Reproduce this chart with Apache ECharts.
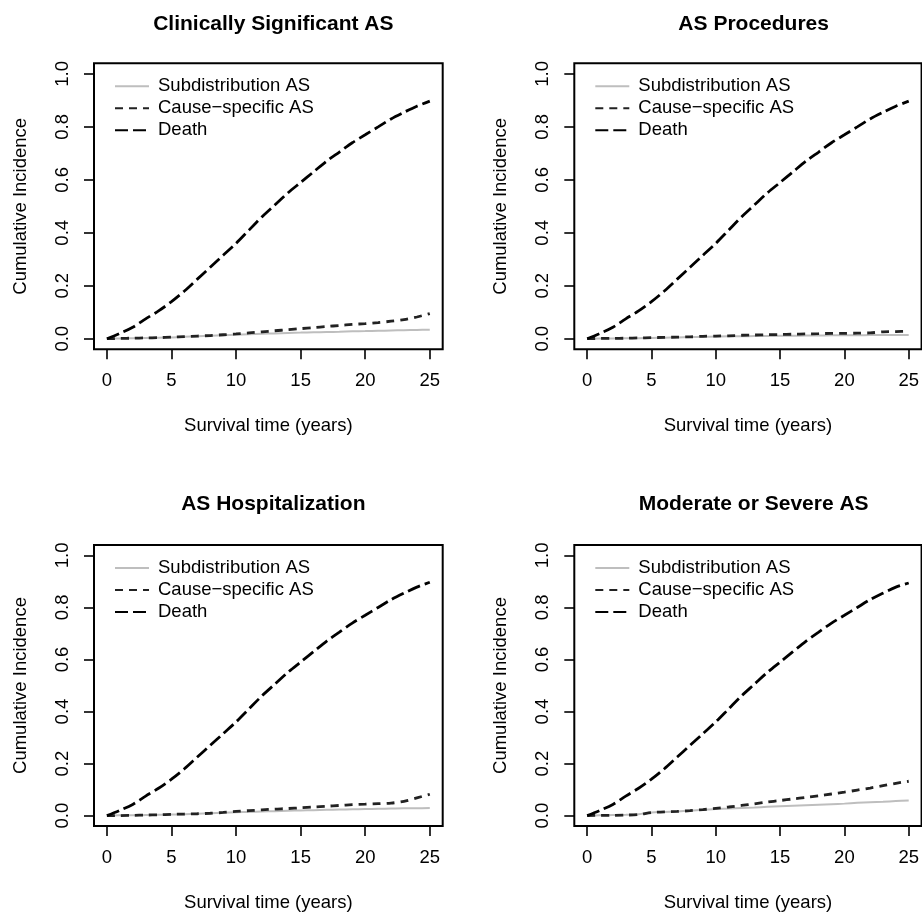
<!DOCTYPE html>
<html>
<head>
<meta charset="utf-8">
<script src="https://cdn.jsdelivr.net/npm/echarts@6/dist/echarts.min.js"></script>
<style>
html,body{margin:0;padding:0;background:#fff;}
#chart{width:922px;height:913px;}
</style>
</head>
<body>
<div id="chart"></div>
<script>
// ---- data ----
var years = [0,1,2,3,4,5,6,7,8,9,10,11,12,13,14,15,16,17,18,19,20,21,22,23,24,25];
var xTicks = [0,5,10,15,20,25];
var yTicks = [0,0.2,0.4,0.6,0.8,1.0];
var titles = ['Clinically Significant AS','AS Procedures','AS Hospitalization','Moderate or Severe AS'];
var seriesNames = ['Subdistribution AS','Cause\u2212specific AS','Death'];

// Clinically Significant AS
var subdist1 = [0,0.001,0.002,0.003,0.004,0.005,0.007,0.009,0.011,0.013,0.015,0.017,0.019,0.020,0.022,0.023,0.024,0.025,0.026,0.028,0.029,0.030,0.031,0.032,0.033,0.034];
var cause1   = [0,0.001,0.002,0.003,0.004,0.006,0.008,0.010,0.012,0.015,0.018,0.022,0.026,0.030,0.034,0.038,0.042,0.046,0.050,0.054,0.057,0.061,0.066,0.072,0.082,0.095];
var death1   = [0,0.020,0.043,0.075,0.105,0.140,0.180,0.225,0.270,0.315,0.360,0.410,0.460,0.505,0.550,0.590,0.630,0.670,0.705,0.740,0.770,0.800,0.830,0.855,0.878,0.897];
// AS Procedures
var subdist2 = [0,0.001,0.001,0.002,0.002,0.003,0.004,0.005,0.006,0.007,0.008,0.009,0.009,0.010,0.010,0.011,0.011,0.012,0.012,0.013,0.013,0.013,0.014,0.014,0.014,0.014];
var cause2   = [0,0.001,0.001,0.002,0.003,0.004,0.005,0.006,0.007,0.009,0.010,0.011,0.013,0.014,0.015,0.016,0.017,0.018,0.019,0.020,0.020,0.021,0.022,0.026,0.027,0.028];
var death2   = [0,0.020,0.043,0.075,0.105,0.140,0.180,0.225,0.270,0.315,0.360,0.410,0.460,0.505,0.550,0.590,0.630,0.670,0.705,0.740,0.770,0.800,0.830,0.855,0.878,0.897];
// AS Hospitalization
var subdist3 = [0,0.001,0.001,0.002,0.003,0.004,0.005,0.007,0.009,0.011,0.013,0.014,0.016,0.017,0.019,0.020,0.021,0.022,0.023,0.024,0.025,0.026,0.027,0.028,0.028,0.029];
var cause3   = [0,0.000,0.001,0.002,0.003,0.005,0.006,0.007,0.009,0.012,0.016,0.019,0.022,0.025,0.027,0.030,0.033,0.036,0.039,0.042,0.044,0.046,0.048,0.055,0.068,0.082];
var death3   = [0,0.020,0.043,0.075,0.105,0.140,0.180,0.225,0.270,0.315,0.360,0.410,0.460,0.505,0.550,0.590,0.630,0.670,0.705,0.740,0.770,0.800,0.830,0.855,0.878,0.897];
// Moderate or Severe AS
var subdist4 = [0,0.001,0.002,0.003,0.005,0.012,0.014,0.016,0.019,0.022,0.025,0.027,0.029,0.031,0.034,0.036,0.038,0.040,0.042,0.044,0.046,0.049,0.051,0.053,0.056,0.058];
var cause4   = [0,0.001,0.001,0.002,0.004,0.012,0.014,0.016,0.019,0.023,0.028,0.033,0.039,0.045,0.052,0.058,0.064,0.070,0.076,0.083,0.090,0.098,0.106,0.115,0.124,0.132];
var death4   = [0,0.020,0.043,0.075,0.105,0.140,0.180,0.225,0.270,0.315,0.360,0.410,0.460,0.505,0.550,0.590,0.630,0.670,0.705,0.740,0.770,0.800,0.830,0.855,0.878,0.894];

var panels = [
  {sub: subdist1, cause: cause1, death: death1},
  {sub: subdist2, cause: cause2, death: death2},
  {sub: subdist3, cause: cause3, death: death3},
  {sub: subdist4, cause: cause4, death: death4}
];

// ---- layout ----
var FONT = 'Liberation Sans, Arial, Helvetica, sans-serif';
var FS = 18.5;
var gridPos = [
  {left: 94,  top: 63.3, width: 348.7, height: 286},
  {left: 574.3, top: 63.3, width: 348.7, height: 286},
  {left: 94,  top: 545, width: 348.7, height: 284.3},
  {left: 574.3, top: 545, width: 348.7, height: 284.3}
];
var titleTop = [9, 9, 489, 489];

function pairs(arr){ return years.map(function(y,i){ return [y, arr[i]]; }); }

var grids = [], xAxes = [], yAxes = [], series = [], titleArr = [], legends = [];
gridPos.forEach(function(g, i){
  grids.push({left: g.left, top: g.top, width: g.width, height: g.height, show: true,
    borderColor: '#000', borderWidth: 2, backgroundColor: 'transparent', containLabel: false});
  xAxes.push({
    gridIndex: i, type: 'value', min: -1, max: 26,
    name: 'Survival time (years)', nameLocation: 'middle', nameGap: 67,
    nameTextStyle: {fontFamily: FONT, fontSize: FS, color: '#000'},
    axisLine: {show: false, onZero: false},
    axisTick: {show: true, inside: false, length: 10, lineStyle: {color: '#000', width: 1.6}, customValues: xTicks},
    axisLabel: {show: true, margin: 22, fontFamily: FONT, fontSize: FS, color: '#000', customValues: xTicks,
      formatter: function(v){ return String(v); }},
    splitLine: {show: false}
  });
  yAxes.push({
    gridIndex: i, type: 'value', min: -0.04, max: 1.04,
    name: 'Cumulative Incidence', nameLocation: 'middle', nameGap: 64, nameRotate: 90,
    nameTextStyle: {fontFamily: FONT, fontSize: FS, color: '#000'},
    axisLine: {show: false, onZero: false},
    axisTick: {show: true, inside: false, length: 10, lineStyle: {color: '#000', width: 1.6}, customValues: yTicks},
    axisLabel: {show: true, rotate: 90, margin: 22, fontFamily: FONT, fontSize: FS, color: '#000', customValues: yTicks,
      formatter: function(v){ return v.toFixed(1); }},
    splitLine: {show: false}
  });
  titleArr.push({
    text: titles[i], left: g.left + g.width/2, top: titleTop[i], textAlign: 'center',
    textStyle: {fontFamily: FONT, fontSize: 21, fontWeight: 'bold', color: '#000'}
  });
  legends.push({
    data: seriesNames, orient: 'vertical', left: g.left + 15, top: g.top + 7,
    itemWidth: 34, itemHeight: 12, itemGap: 0, selectedMode: false,
    itemStyle: {opacity: 0},
    textStyle: {fontFamily: FONT, fontSize: FS, color: '#000', lineHeight: 22, padding: [0,0,0,4]}
  });
  var p = panels[i];
  series.push({
    name: seriesNames[0], type: 'line', xAxisIndex: i, yAxisIndex: i, data: pairs(p.sub),
    showSymbol: false, symbol: 'none', smooth: 0.3, lineStyle: {color: '#bebebe', width: 2, type: 'solid'},
    itemStyle: {color: '#bebebe'}, z: 2, silent: true
  });
  series.push({
    name: seriesNames[1], type: 'line', xAxisIndex: i, yAxisIndex: i, data: pairs(p.cause),
    showSymbol: false, symbol: 'none', smooth: 0.3, lineStyle: {color: '#222', width: 2.8, type: [8, 6]},
    itemStyle: {color: '#222'}, z: 3, silent: true
  });
  series.push({
    name: seriesNames[2], type: 'line', xAxisIndex: i, yAxisIndex: i, data: pairs(p.death),
    showSymbol: false, symbol: 'none', smooth: 0.3, lineStyle: {color: '#000', width: 2.8, type: [13, 5]},
    itemStyle: {color: '#000'}, z: 4, silent: true
  });
});

var chart = echarts.init(document.getElementById('chart'), null, {renderer: 'canvas'});
chart.setOption({
  backgroundColor: '#fff',
  animation: false,
  title: titleArr,
  legend: legends,
  grid: grids,
  xAxis: xAxes,
  yAxis: yAxes,
  series: series
});
</script>
</body>
</html>
